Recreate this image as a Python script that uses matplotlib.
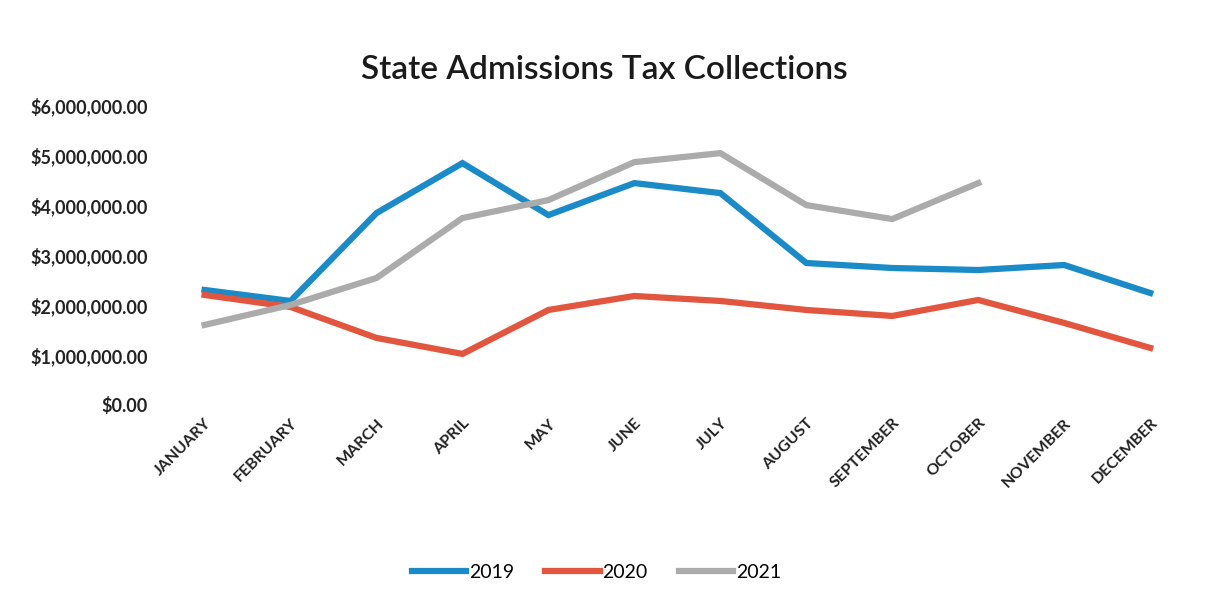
import matplotlib
matplotlib.use('Agg')
import matplotlib.pyplot as plt
from matplotlib.ticker import FuncFormatter

# monthly collections (dollars)
months = ['JANUARY', 'FEBRUARY', 'MARCH', 'APRIL', 'MAY', 'JUNE', 'JULY',
          'AUGUST', 'SEPTEMBER', 'OCTOBER', 'NOVEMBER', 'DECEMBER']
tax_2019 = [2300000, 2080000, 3840000, 4840000, 3800000, 4440000, 4240000,
            2840000, 2740000, 2700000, 2800000, 2240000]
tax_2020 = [2200000, 1960000, 1340000, 1020000, 1900000, 2180000, 2080000,
            1900000, 1780000, 2100000, 1640000, 1140000]
tax_2021 = [1600000, 2000000, 2540000, 3740000, 4100000, 4860000, 5040000,
            4000000, 3720000, 4440000]
series_names = ['2019', '2020', '2021']
colors = ['#1a8bc6', '#e2563f', '#ababab']

plt.rcParams['font.family'] = ['Lato', 'DejaVu Sans']

fig = plt.figure(figsize=(12.15, 5.91), dpi=100)
ax = fig.add_axes([0.133, 0.315, 0.849, 0.507])

x = list(range(len(months)))
for vals, name, c in zip([tax_2019, tax_2020, tax_2021], series_names, colors):
    ax.plot(x[:len(vals)], vals, color=c, lw=4.5, label=name, solid_joinstyle='miter')

ax.set_xlim(-0.5, len(months) - 0.5)
ax.set_ylim(0, 6000000)
ax.set_yticks(range(0, 6000001, 1000000))
ax.yaxis.set_major_formatter(FuncFormatter(lambda v, p: '${:,.2f}'.format(v)))
ax.set_xticks(x)
ax.set_xticklabels(months, rotation=45, ha='right', rotation_mode='anchor')

for s in ax.spines.values():
    s.set_visible(False)
ax.tick_params(axis='both', length=0, colors='#222222')
ax.tick_params(axis='y', pad=10, labelsize=13)
ax.tick_params(axis='x', pad=8, labelsize=11.5)
for lbl in ax.get_yticklabels() + ax.get_xticklabels():
    lbl.set_fontweight('bold')

fig.text(0.497, 0.882, 'State Admissions Tax Collections', ha='center', va='center',
         fontsize=24, color='#1a1a1a', fontweight='semibold')

fig.legend(loc='center', bbox_to_anchor=(0.491, 0.032), ncol=3, frameon=False,
           fontsize=14, handlelength=2.8, columnspacing=1.6, handletextpad=0.15)

fig.savefig('out.png', dpi=100, facecolor='white')
